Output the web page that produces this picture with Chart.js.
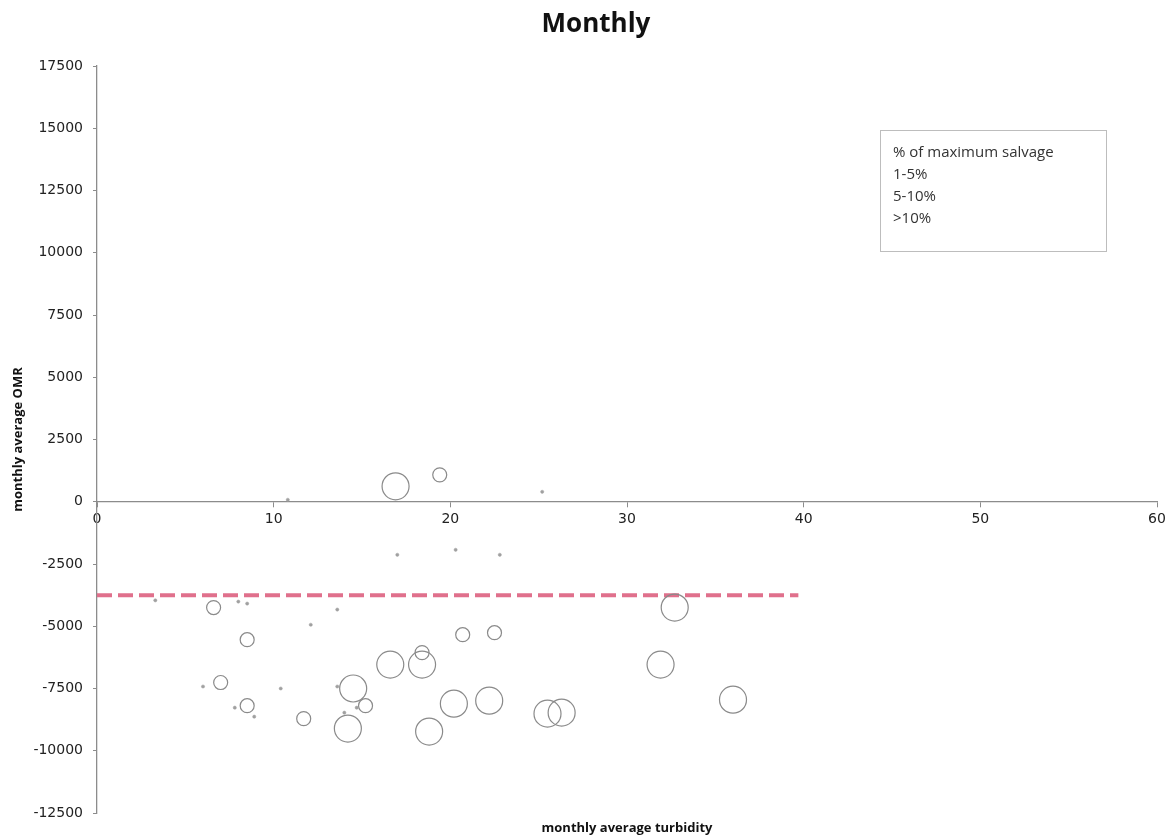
<!DOCTYPE html>
<html>
<head>
<meta charset="utf-8">
<title>Monthly</title>
<script src="https://cdn.jsdelivr.net/npm/chart.js@4.4.1/dist/chart.umd.min.js"></script>
<style>
  html, body { margin: 0; padding: 0; background: #fff; }
  #wrap { position: relative; width: 1173px; height: 838px; }
  #chart-title {
    position: absolute; left: 446px; top: 4px; width: 300px; text-align: center;
    font-family: "Open Sans", sans-serif; font-weight: bold; font-size: 26px; color: #111;
    line-height: 36px;
  }
  #legend-box {
    position: absolute; left: 880px; top: 130px; width: 227px; height: 122px;
    border: 1px solid #bdbdbd; box-sizing: border-box;
    font-family: "Open Sans", sans-serif; font-size: 15px; color: #333;
    padding: 9px 0 0 12px; line-height: 22px;
  }
</style>
</head>
<body>
<div id="wrap">
  <canvas id="omrChart" width="1173" height="838"></canvas>
  <div id="chart-title">Monthly</div>
  <div id="legend-box"></div>
</div>
<script>
// legend lines
const legendLines = ['% of maximum salvage', '1-5%', '5-10%', '>10%'];

// 1-5% of maximum salvage (tiny marks)
const smallX = [10.8, 25.2, 17.0, 20.3, 22.8, 3.3, 8.0, 8.5, 13.6, 12.1, 6.0, 10.4, 13.6, 7.8, 8.9, 14.0, 14.7];
const smallY = [80, 400, -2130, -1930, -2130, -3960, -4010, -4090, -4330, -4940, -7420, -7500, -7420, -8270, -8630, -8470, -8270];

// 5-10%
const midX = [19.4, 6.6, 8.5, 7.0, 8.5, 11.7, 15.2, 20.7, 22.5, 18.4];
const midY = [1080, -4250, -5540, -7260, -8190, -8710, -8190, -5340, -5260, -6060];

// >10%
const bigX = [16.9, 32.7, 31.9, 36.0, 25.5, 26.3, 22.2, 20.2, 18.8, 14.2, 14.5, 16.6, 18.4];
const bigY = [620, -4250, -6540, -7950, -8510, -8470, -7990, -8110, -9230, -9110, -7500, -6540, -6540];

// dashed reference line
const refX = [0, 39.7];
const refY = [-3750, -3750];

const toPoints = (xs, ys) => xs.map((x, i) => ({ x: x, y: ys[i] }));

document.getElementById('legend-box').innerHTML = legendLines.map(t => '<div>' + t.replace('>', '&gt;') + '</div>').join('');

const axisGrey = '#8c8c8c';
const tickFont = { family: '"DejaVu Sans", sans-serif', size: 14 };
const titleFont = { family: '"Open Sans", sans-serif', size: 13, weight: 'bold' };

new Chart(document.getElementById('omrChart').getContext('2d'), {
  type: 'scatter',
  data: {
    datasets: [
      {
        label: '1-5%', data: toPoints(smallX, smallY),
        pointRadius: 1.6, backgroundColor: '#a0a0a0', borderColor: '#a0a0a0', borderWidth: 0.5
      },
      {
        label: '5-10%', data: toPoints(midX, midY),
        pointRadius: 7, backgroundColor: 'rgba(0,0,0,0)', borderColor: '#8a8a8a', borderWidth: 1.2
      },
      {
        label: '>10%', data: toPoints(bigX, bigY),
        pointRadius: 13.5, backgroundColor: 'rgba(0,0,0,0)', borderColor: '#8a8a8a', borderWidth: 1.2
      },
      {
        label: 'ref', data: toPoints(refX, refY), showLine: true,
        borderColor: '#e0708c', borderWidth: 4, borderDash: [15, 6],
        pointRadius: 0, fill: false
      }
    ]
  },
  options: {
    responsive: false,
    animation: false,
    layout: { padding: { left: 6, right: 16, top: 66, bottom: 0 } },
    plugins: {
      legend: { display: false },
      tooltip: { enabled: false },
      title: { display: false }
    },
    scales: {
      x: {
        type: 'linear', min: 0, max: 60, position: { y: 0 },
        ticks: { stepSize: 10, color: '#222', font: tickFont, padding: 4 },
        grid: { drawOnChartArea: false, drawTicks: true, tickLength: 5, color: axisGrey },
        border: { color: axisGrey, width: 1.3 }
      },
      xt: {
        type: 'linear', axis: 'x', position: 'bottom', min: 0, max: 60,
        ticks: { display: false },
        grid: { display: false },
        border: { display: false },
        title: { display: true, text: 'monthly average turbidity', color: '#111', font: titleFont, padding: { top: 2, bottom: 2 } },
        afterFit: (scale) => { scale.height = 25; }
      },
      y: {
        type: 'linear', min: -12500, max: 17500,
        ticks: { stepSize: 2500, color: '#222', font: tickFont, padding: 10, callback: (v) => String(v) },
        grid: { drawOnChartArea: false, drawTicks: true, tickLength: 4, color: axisGrey },
        border: { color: axisGrey, width: 1.3 },
        title: { display: true, text: 'monthly average OMR', color: '#111', font: titleFont, padding: { top: 4, bottom: 4 } },
        afterFit: (scale) => { scale.width = 91; }
      }
    }
  }
});
</script>
</body>
</html>
